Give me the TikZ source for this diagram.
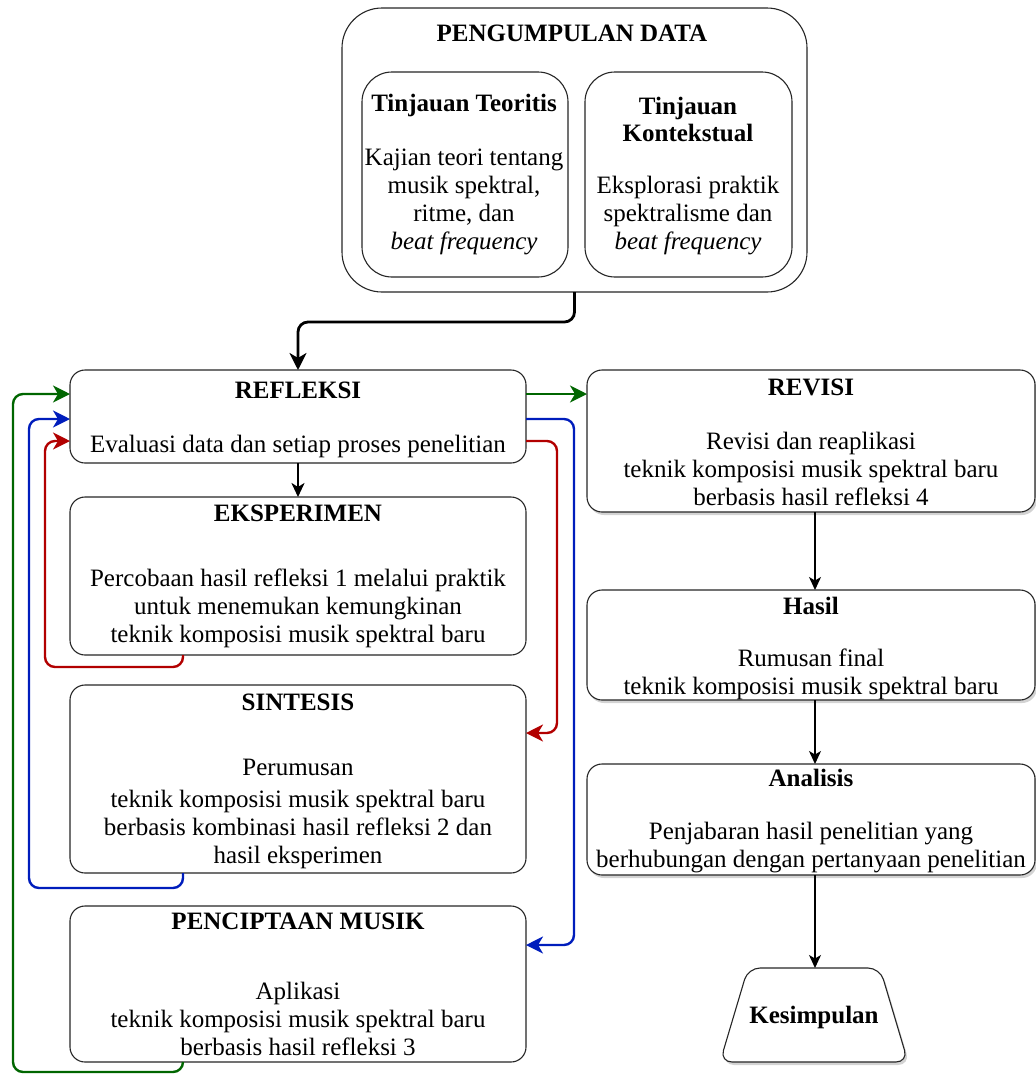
\documentclass[tikz,border=0pt]{standalone}
\usepackage{fontspec}
\setmainfont{Liberation Serif}
\usetikzlibrary{arrows.meta,shadows,shapes.geometric,calc}
\definecolor{grn}{RGB}{0,102,0}
\definecolor{blu}{RGB}{0,29,188}
\definecolor{rd}{RGB}{178,0,0}
\begin{document}
\begin{tikzpicture}[x=1pt,y=-1pt,
  box/.style={draw=black!85, line width=1.1pt, fill=white, rounded corners=15pt, inner sep=0pt, outer sep=0pt},
  shbox/.style={box, drop shadow={shadow xshift=2pt, shadow yshift=-3pt, opacity=0.35}},
  txt/.style={align=center, inner sep=0pt, font=\fontsize{25}{28}\selectfont},
  ttl/.style={align=center, inner sep=0pt, font=\fontsize{25}{27}\selectfont\bfseries},
  bigtip/.style={-{Stealth[length=17pt,width=17pt,inset=5pt]}},
  conn/.style={line width=2.4pt, rounded corners=10pt, bigtip},
  thinarr/.style={line width=1.3pt, -{Stealth[length=13pt,width=12pt,inset=3.5pt]}},
  ]
\useasboundingbox (0,0) rectangle (1036,1074);

% ---------- boxes ----------
\node[box, rounded corners=40pt, minimum width=465pt, minimum height=284pt] (pd) at (574.5,150) {};
\node[box, rounded corners=30pt, minimum width=206pt, minimum height=205pt] (tt) at (465,174.5) {};
\node[box, rounded corners=30pt, minimum width=207pt, minimum height=205pt] (tk) at (688.5,174.5) {};

\node[box, minimum width=456pt, minimum height=93pt] (refl) at (298,416.5) {};
\node[box, minimum width=456pt, minimum height=158pt] (eksp) at (298,576) {};
\node[box, minimum width=456pt, minimum height=188pt] (sint) at (298,779) {};
\node[box, minimum width=456pt, minimum height=156pt] (penc) at (298,984) {};

\node[shbox, minimum width=448pt, minimum height=142pt] (rev) at (811,441) {};
\node[shbox, minimum width=448pt, minimum height=110pt] (hasil) at (811,645) {};
\node[shbox, minimum width=448pt, minimum height=111pt] (anal) at (811,819.5) {};

% Kesimpulan (trapezoid)
\node[minimum width=188pt, minimum height=94pt, inner sep=0pt, outer sep=0pt] (kes) at (814,1015) {};
\path[draw=black!85, line width=1.1pt, fill=white, rounded corners=12pt,
      drop shadow={shadow xshift=2pt, shadow yshift=-3pt, opacity=0.35}]
  (kes.south west) -- ($(kes.north west)+(28,0)$) -- ($(kes.north east)+(-28,0)$) -- (kes.south east) -- cycle;
\node[ttl] (kesT) at (814,1017) {Kesimpulan};

% ---------- texts ----------
\node[ttl] (pdT) at (572,33) {PENGUMPULAN DATA};
\node[ttl] (ttT) at (464,105) {Tinjauan Teoritis};
\node[txt] (ttB) at (464,202) {Kajian teori tentang\\musik spektral,\\ritme, dan\\\textit{beat frequency}};
\node[ttl] (tkT) at (688,119.5) {Tinjauan\\Kontekstual};
\node[txt] (tkB) at (688,216) {Eksplorasi praktik\\spektralisme dan\\\textit{beat frequency}};

\node[ttl] (reflT) at (298,390) {REFLEKSI};
\node[txt] (reflB) at (298,446) {Evaluasi data dan setiap proses penelitian};
\node[ttl] (ekspT) at (298,513) {EKSPERIMEN};
\node[txt] (ekspB) at (298,608) {Percobaan hasil refleksi 1 melalui praktik\\untuk menemukan kemungkinan\\teknik komposisi musik spektral baru};
\node[ttl] (sintT) at (298,702) {SINTESIS};
\node[txt] (sintB) at (298,814) {Perumusan\\[4pt]teknik komposisi musik spektral baru\\berbasis kombinasi hasil refleksi 2 dan\\hasil eksperimen};
\node[ttl] (pencT) at (298,921) {PENCIPTAAN MUSIK};
\node[txt] (pencB) at (298,1019) {Aplikasi\\teknik komposisi musik spektral baru\\berbasis hasil refleksi 3};

\node[ttl] (revT) at (811,387) {REVISI};
\node[txt] (revB) at (811,468.5) {Revisi dan reaplikasi\\teknik komposisi musik spektral baru\\berbasis hasil refleksi 4};
\node[ttl] (hasilT) at (811,606) {Hasil};
\node[txt] (hasilB) at (811,674.5) {Rumusan final\\teknik komposisi musik spektral baru};
\node[ttl] (analT) at (811,778) {Analisis};
\node[txt] (analB) at (811,848) {Penjabaran hasil penelitian yang\\berhubungan dengan pertanyaan penelitian};

% ---------- connectors ----------
\draw[conn, black, line width=2.8pt] (pd.south) -- (574.5,322) -- (298,322) -- (refl.north);
\draw[line width=2.4pt, -{Stealth[length=14pt,width=13pt,inset=4pt]}] (refl.south) -- (eksp.north);

\draw[conn, grn] ($(penc.south west)+(113,0)$) -- ++(0,10) -- (13,1072) -- (13,394) -- ([yshift=22.5pt]refl.west);
\draw[conn, blu] ($(sint.south west)+(113,0)$) -- ++(0,15) -- (29,888) -- (29,419) -- ([yshift=-2.5pt]refl.west);
\draw[conn, rd] ($(eksp.south west)+(113,0)$) -- ++(0,12) -- (45,667) -- (45,441) -- ([yshift=-24.5pt]refl.west);

\draw[conn, grn] ([yshift=22.5pt]refl.east) -- ([yshift=22.5pt]refl.east -| rev.west);
\draw[conn, blu] ([yshift=-2.5pt]refl.east) -- (574,419) -- (574,945) -- ([yshift=39pt]penc.east);
\draw[conn, rd] ([yshift=-24.5pt]refl.east) -- (557,441) -- (557,733) -- ([yshift=46pt]sint.east);

\draw[thinarr] ([xshift=4pt]rev.south) -- ([xshift=4pt]hasil.north);
\draw[thinarr] ([xshift=4pt]hasil.south) -- ([xshift=4pt]anal.north);
\draw[thinarr] ([xshift=4pt]anal.south) -- ([xshift=1pt]kes.north);
\end{tikzpicture}
\end{document}
